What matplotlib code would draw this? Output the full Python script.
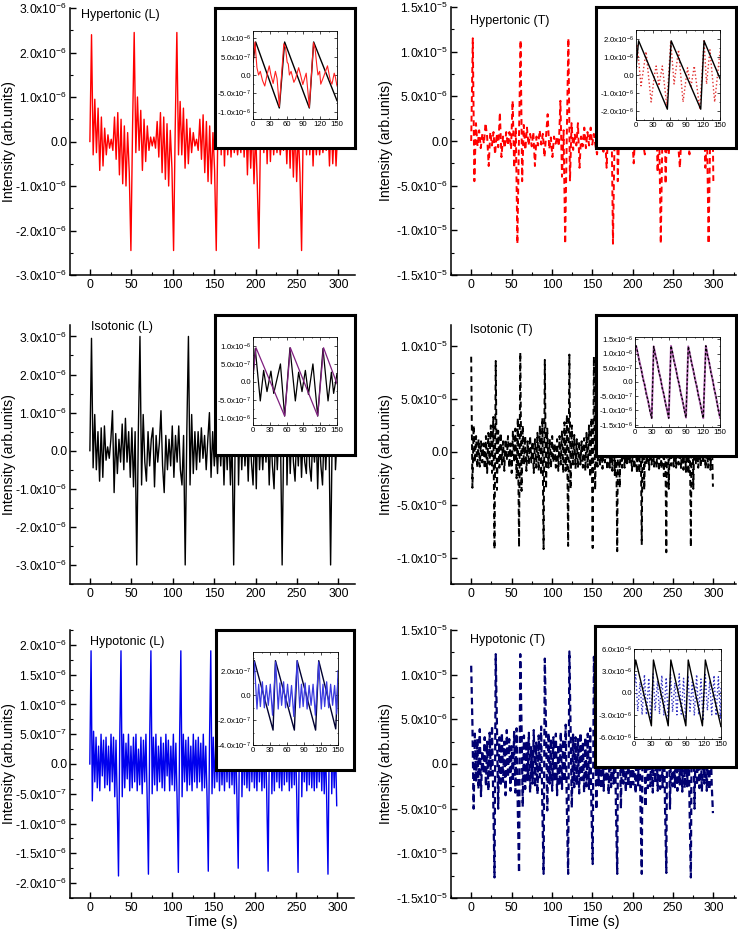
import numpy as np
import matplotlib
matplotlib.use("Agg")
import matplotlib.pyplot as plt
from matplotlib import font_manager
from matplotlib.ticker import MultipleLocator, FuncFormatter

# ---------------- data ----------------
# main traces: one row per repetition period, values in units below
hyper_L_period = 51.5
hyper_L_rows = [  # x1e-6
    [0.0, 2.4, -0.3, 0.95, -0.25, 0.75, -0.65, 0.55, -0.55, 0.3, -0.3, 0.15, -0.15, 0.05, -0.2, 0.55, -0.4, 0.65, -0.75, 0.5, -0.95, 0.35, -1.0, 0.2, -0.7, -2.45],
    [0.3, 2.45, -0.25, 1.0, -0.2, 0.7, -0.65, 0.5, -0.45, 0.35, -0.2, 0.1, -0.1, 0.1, -0.15, 0.45, -0.35, 0.65, -0.7, 0.55, -0.85, 0.4, -1.0, 0.25, -0.6, -2.45],
    [0.3, 2.45, -0.3, 0.9, -0.3, 0.75, -0.6, 0.5, -0.5, 0.3, -0.25, 0.2, -0.1, 0.05, -0.2, 0.5, -0.4, 0.6, -0.7, 0.45, -0.9, 0.35, -0.95, 0.2, -0.65, -2.45],
    [0.3, 2.4, -0.3, 0.95, -0.55, 0.7, -0.3, 0.5, -0.35, 0.3, -0.25, 0.15, -0.3, 0.1, -0.25, 0.5, -0.35, 0.6, -0.75, 0.5, -0.6, 0.4, -0.95, 0.25, -0.95, -2.4],
    [0.3, 2.4, -0.25, 0.9, -0.5, 0.7, -0.45, 0.5, -0.3, 0.3, -0.25, 0.2, -0.3, 0.1, -0.2, 0.45, -0.5, 0.6, -0.6, 0.5, -0.8, 0.4, -0.9, 0.2, -0.7, -2.45],
    [0.3, 2.4, -0.3, 0.9, -0.3, 0.7, -0.55, 0.5, -0.3, 0.3, -0.3, 0.15, -0.25, 0.1, -0.2, 0.45, -0.55, 0.5, -0.5, 0.4, -0.55, 0.2],
]

hyper_T_period = 59.2
hyper_T_rows = [  # x1e-6
    [0.0, 11.5, -4.5, 2.0, -0.6, 1.2, -0.8, 0.8, -0.3, 2.0, 0.5, -2.8, 1.0, -0.5, 1.0, -1.5, 0.8, -0.7, 3.2, -1.8, 0.5, -0.8, 1.0, -0.5, 1.0, -0.9, 4.5, -3.0, 1.5, -11.5],
    [0.5, 11.3, -4.5, 1.8, -1.0, 1.5, -0.5, 0.8, -0.6, 1.0, -2.8, 0.5, -0.5, 1.2, -0.4, 0.8, -1.8, 0.6, 3.0, -0.9, 0.4, -1.8, 0.5, -0.3, 0.5, -0.6, 4.5, -4.0, 1.2, -11.5],
    [0.5, 11.5, -4.5, 2.0, -1.0, 0.8, -0.5, 2.0, -3.0, 0.5, -0.6, 1.5, -0.8, 1.0, -0.5, 1.5, -0.4, 0.8, -0.5, -1.5, 0.6, -0.8, 1.0, -1.2, 0.8, -3.0, 1.5, -0.8, 4.0, -11.5],
    [0.5, 11.5, -4.5, 1.8, -0.8, 1.2, -0.6, 1.0, -0.5, 1.5, -0.7, 0.8, -2.5, 1.0, -0.6, 1.2, -0.5, 0.8, -0.4, -1.5, 0.6, -0.5, 1.0, -1.0, 0.8, -0.6, 4.0, -3.5, 1.2, -11.5],
    [0.5, 11.5, -4.8, 1.8, -1.5, 1.0, -0.6, 1.2, -0.5, 0.8, -0.6, -3.0, 1.0, -0.5, 1.2, -0.6, 0.8, -1.5, 0.6, -0.4, -1.0, 0.8, -0.5, 1.0, -0.6, 0.8, 4.0, -3.0, 1.2, -11.5],
    [0.5, 11.5, -4.5],
]

iso_L_period = 58.5
iso_L_rows = [  # x1e-6
    [0.0, 2.95, -0.45, 0.95, -0.5, 0.5, -0.8, 0.6, -0.7, 0.65, -0.25, 0.1, -0.2, 0.3, 1.05, -1.1, 0.45, -0.6, 0.3, -0.3, 0.7, -0.5, 0.85, -0.3, 0.5, -0.7, 0.6, -0.95, 0.5, -3.0],
    [0.5, 3.0, -0.9, 0.95, -0.3, -0.8, 0.5, -0.4, 0.3, 0.6, -0.95, 0.4, -0.3, 0.2, 1.05, -0.4, -1.1, 0.4, -0.5, 0.3, -0.4, 0.65, -0.7, 0.4, -0.3, 0.65, -0.5, -0.9, 0.4, -3.0],
    [0.5, 3.0, -0.9, 0.95, -0.6, 0.5, -0.5, 0.5, -0.3, 0.6, -0.2, 0.4, -0.5, 0.3, 1.0, -0.7, 0.5, -0.4, 0.3, -0.6, 0.5, -0.4, 0.6, -0.9, 0.5, -0.5, 0.6, -0.9, 0.4, -3.0],
    [0.5, 3.0, -0.9, 0.9, -0.5, 0.6, -0.4, 0.5, -0.8, 0.6, -0.3, -0.9, 0.7, -1.0, 1.0, -0.5, 0.4, -0.5, 0.5, -0.3, 0.6, -0.9, 0.5, -0.4, -1.0, 0.6, -0.5, 0.5, 0.3, -3.0],
    [0.5, 3.0, -0.9, 0.9, -0.6, 0.6, -0.3, -0.8, 0.5, -0.4, 0.6, -0.7, 0.4, -0.3, -0.6, 1.0, -0.4, -0.8, 0.5, -0.3, 0.6, -1.0, 0.5, -0.4, -0.9, 0.6, -0.5, 0.6, 0.3, -3.0],
    [0.5, 3.0, -0.5, 0.3],
]

iso_T_period = 30.4
iso_T_rows = [  # x1e-6
    [9.0, -3.4, 2.5, -1.0, 1.5, -1.5, 1.2, -1.4, 1.0, -1.0, 0.8, -1.6, 1.5, -2.0, 1.8, -1.2, 2.5, -2.0, 3.3, -9.2],
    [8.6, -3.6, 2.0, -1.5, 1.8, -1.2, 1.0, -1.8, 1.2, -0.8, 1.5, -1.5, 0.8, -2.0, 2.0, -1.0, 2.2, -2.5, 3.2, -9.0],
    [9.4, -3.7, 2.5, -1.2, 1.5, -1.8, 1.0, -1.2, 1.5, -1.0, 1.0, -2.0, 1.2, -1.5, 1.8, -1.8, 2.5, -2.2, 3.2, -9.2],
    [8.7, -3.5, 2.2, -1.5, 1.2, -1.5, 1.5, -1.0, 0.8, -1.5, 1.2, -1.8, 1.5, -1.2, 2.0, -2.0, 2.8, -1.8, 3.5, -8.9],
    [9.2, -3.5, 2.5, -1.2, 1.6, -1.6, 1.2, -1.5, 1.0, -1.2, 1.0, -1.5, 1.3, -1.8, 1.8, -1.5, 2.5, -2.4, 3.2, -9.1],
    [9.0, -3.6, 2.0, -1.4, 1.5, -1.2, 1.2, -1.6, 1.0, -1.0, 1.2, -1.7, 1.5, -1.5, 2.0, -1.8, 2.4, -2.2, 3.0, -9.4],
    [9.0, -3.4, 2.4, -1.5, 1.4, -1.5, 1.0, -1.3, 1.2, -1.1, 0.9, -1.8, 1.4, -1.6, 1.9, -2.0, 2.6, -2.0, 3.2, -8.8],
    [9.0, -3.6, 2.2, -1.2, 1.5, -1.7, 1.3, -1.2, 1.0, -1.4, 1.1, -1.5, 1.2, -1.8, 2.0, -1.6, 2.4, -2.3, 3.3, -9.5],
    [9.0, -3.5, 2.3, -1.3, 1.5, -1.4, 1.1, -1.5, 1.1, -1.2, 1.0, -1.6, 1.4, -1.7, 1.8, -1.9, 2.5, -2.1, 3.2, -9.0],
    [9.0, -3.5, 2.2, -1.2, 1.5, -1.5, 1.2, -1.4, 1.0, -1.1, 1.0, -1.6, 1.3, -1.5, 1.8, -1.7, 2.0, -3.3],
]

hypo_L_period = 36.25
hypo_L_rows = [  # x1e-6
    [0.0, 1.9, -0.62, 0.55, -0.3, 0.45, -0.4, 0.3, -0.45, 0.5, -0.2, 0.4, -0.4, 0.45, -0.35, 0.3, -0.45, 0.5, -0.3, 0.45, -0.55, 0.4, -0.65, -1.88],
    [0.4, 1.9, -0.55, 0.5, -0.4, 0.35, -0.25, 0.5, -0.45, 0.3, -0.4, 0.45, -0.3, 0.5, -0.45, 0.25, -0.35, 0.45, -0.5, 0.4, -0.3, 0.5, -0.6, -1.85],
    [0.4, 1.9, -0.5, 0.45, -0.35, 0.5, -0.45, 0.3, -0.3, 0.45, -0.4, 0.35, -0.45, 0.5, -0.2, 0.4, -0.45, 0.3, -0.35, 0.5, -0.45, 0.35, -0.6, -1.82],
    [0.4, 1.9, -0.55, 0.5, -0.3, 0.4, -0.45, 0.45, -0.35, 0.3, -0.45, 0.5, -0.3, 0.4, -0.4, 0.45, -0.3, 0.35, -0.45, 0.5, -0.4, 0.3, -0.55, -1.8],
    [0.4, 1.9, -0.5, 0.45, -0.4, 0.35, -0.3, 0.5, -0.45, 0.4, -0.35, 0.3, -0.45, 0.45, -0.3, 0.4, -0.4, 0.5, -0.35, 0.3, -0.5, 0.45, -0.6, -1.75],
    [0.4, 1.9, -0.55, 0.5, -0.35, 0.45, -0.4, 0.3, -0.45, 0.45, -0.3, 0.4, -0.4, 0.35, -0.45, 0.5, -0.3, 0.4, -0.45, 0.35, -0.4, 0.5, -0.65, -1.8],
    [0.4, 1.9, -0.5, 0.4, -0.45, 0.5, -0.3, 0.45, -0.4, 0.3, -0.45, 0.5, -0.35, 0.4, -0.3, 0.45, -0.45, 0.35, -0.4, 0.5, -0.35, 0.4, -0.6, -1.82],
    [0.4, 1.9, -0.55, 0.45, -0.3, 0.4, -0.45, 0.5, -0.35, 0.4, -0.4, 0.3, -0.45, 0.5, -0.4, 0.35, -0.3, 0.45, -0.45, 0.4, -0.5, 0.35, -0.65, -1.85],
    [0.4, 1.9, -0.5, 0.45, -0.4, 0.35, -0.7],
]

hypo_T_period = 30.4
hypo_T_rows = [  # x1e-6
    [11.0, 4.5, -5.0, 3.4, -2.0, 2.8, -2.8, 3.9, -3.6, 1.5, -1.0, 3.0, -2.5, 2.5, -3.0, 3.5, -1.3, 4.3, -4.5, -12.7],
    [12.3, 4.3, -5.0, 3.0, -2.5, 3.5, -2.0, 2.5, -3.5, 3.8, -1.5, 2.8, -3.0, 2.0, -2.0, 3.6, -3.2, 4.0, -5.2, -12.2],
    [12.3, 4.5, -4.8, 3.2, -2.8, 2.6, -1.8, 3.5, -3.2, 2.0, -2.2, 3.8, -2.6, 2.4, -3.4, 3.2, -1.5, 4.2, -5.0, -12.3],
    [11.8, 4.0, -5.2, 3.5, -2.2, 2.8, -3.0, 3.0, -2.0, 3.4, -3.5, 2.2, -2.4, 3.6, -2.8, 2.8, -2.0, 4.4, -5.3, -12.3],
    [12.6, 4.2, -4.9, 3.3, -2.6, 3.0, -2.4, 2.8, -3.3, 3.5, -1.8, 2.5, -3.2, 3.0, -2.5, 3.4, -2.8, 4.0, -5.0, -11.2],
    [12.0, 4.4, -5.1, 3.0, -2.4, 3.2, -2.8, 2.6, -3.0, 3.3, -2.0, 2.8, -3.4, 2.5, -2.6, 3.5, -2.2, 4.1, -5.2, -12.3],
    [12.0, 4.3, -5.0, 3.4, -2.2, 2.9, -3.1, 3.2, -2.5, 2.7, -2.9, 3.1, -2.3, 2.9, -3.3, 3.2, -2.4, 4.2, -5.0, -12.3],
    [12.0, 4.2, -4.8, 3.1, -2.7, 3.3, -2.5, 2.7, -3.2, 3.0, -2.1, 2.9, -3.0, 2.6, -2.8, 3.4, -2.6, 4.3, -5.1, -12.2],
    [12.0, 4.5, -5.0, 3.2, -2.5, 3.0, -2.6, 3.0, -3.0, 3.2, -2.3, 2.7, -3.1, 2.8, -2.7, 3.3, -2.5, 4.1, -5.2, -12.7],
    [12.0, 4.3, -5.0, 3.3, -2.4, 3.1, -2.7, 2.9, -3.1, 3.0, -2.2, 2.8, -3.0, 2.6, -2.9, 3.2, -2.3, -5.5],
]

# insets (turning points), time in s
in_hyper_L_saw_t = [0, 4.8, 47, 56.5, 100.6, 108.3, 150]
in_hyper_L_saw_v = [0.35, 0.9, -0.9, 0.9, -0.9, 0.9, -0.7]  # x1e-6
in_hyper_L_sig_t = [0, 3.5, 7, 10, 13, 17, 21, 25, 29, 32, 36, 40, 43, 47, 55, 58, 61, 63, 65, 68,
                    73, 76, 81.5, 85, 89, 92, 95, 100.6, 108, 111, 114, 116, 119, 121, 126, 133, 138, 141, 145, 147, 150]
in_hyper_L_sig_v = [0.4, 0.9, 0.2, 0.0, 0.1, -0.15, -0.3, 0.0, 0.25, 0.0, -0.23, 0.1, -0.1, -0.86, 0.85, 0.75, 0.35, 0.3, 0.0, 0.1,
                    -0.2, -0.1, 0.2, 0.0, -0.26, -0.1, 0.05, -0.88, 0.88, 0.7, 0.25, 0.0, 0.1, -0.25, -0.05, 0.25, -0.15, -0.25, 0.05, -0.05, -0.3]

in_hyper_T_saw_t = [0, 4.7, 56, 62.8, 115.6, 121.5, 150]
in_hyper_T_saw_v = [0.4, 1.9, -1.9, 1.9, -1.9, 1.9, -0.2]  # x1e-6
in_hyper_T_sig_t = [0, 2, 9, 18, 27, 33, 36, 41, 47, 55, 62, 68, 76, 84, 92, 98, 104, 114, 121.5, 126, 132, 140.5, 150]
in_hyper_T_sig_v = [0.5, 1.7, -0.6, 1.3, -1.5, 0.0, 0.5, -0.6, 0.5, -1.7, 1.9, -0.5, 1.4, -1.5, 0.4, -0.7, 0.5, -1.9, 1.9, -0.5, 1.4, -1.5, 1.3]

in_iso_L_saw_t = [0, 5.4, 56.5, 66.7, 115.5, 126, 150]
in_iso_L_saw_v = [0.2, 0.95, -0.95, 0.95, -0.95, 0.95, -0.05]  # x1e-6
in_iso_L_sig_t = [0, 4, 13, 19, 25, 32, 37, 49, 56.5, 66, 75.6, 81.5, 87.5, 93.5, 99, 107, 115.5, 125, 134, 140, 144, 150]
in_iso_L_sig_v = [0.1, 0.93, -0.53, 0.32, -0.27, 0.3, -0.32, 0.5, -0.95, 0.95, -0.53, 0.27, -0.27, 0.32, -0.35, 0.5, -0.95, 0.93, -0.53, 0.27, -0.32, 0.23]

in_iso_T_saw_t = [0, 2, 29.5, 33, 59.5, 63.5, 90, 94, 120.5, 125, 150]
in_iso_T_saw_v = [1.1, 1.27, -1.27, 1.25, -1.27, 1.27, -1.25, 1.25, -1.27, 1.27, -1.25]  # x1e-6
in_iso_T_sig_t = [0, 2, 5, 8, 11, 14, 17, 20, 23, 26, 29.5, 33, 36, 39, 42, 45, 48, 51, 54, 57,
                  59.5, 63.5, 66, 69, 72, 75, 78, 81, 84, 87, 90, 94, 97, 100, 103, 106, 109, 112, 115, 118,
                  120.5, 125, 128, 131, 134, 137, 140, 143, 146, 150]
in_iso_T_sig_v = [1.1, 1.27, 1.02, 0.66, 0.47, 0.10, -0.08, -0.45, -0.63, -1.0, -1.27, 1.25, 0.92, 0.72, 0.35, 0.15, -0.22, -0.42, -0.79, -1.0,
                  -1.27, 1.27, 1.06, 0.71, 0.50, 0.14, -0.07, -0.43, -0.64, -1.0, -1.25, 1.25, 0.99, 0.64, 0.43, 0.07, -0.14, -0.50, -0.71, -1.07,
                  -1.27, 1.27, 0.93, 0.71, 0.32, 0.10, -0.28, -0.50, -0.89, -1.25]

in_hypo_L_saw_t = [0, 2.4, 35.4, 39.6, 73, 78, 110.5, 116, 146, 150]
in_hypo_L_saw_v = [2.1, 2.8, -2.8, 2.8, -2.8, 2.8, -2.8, 2.8, -2.7, 1.3]  # x1e-7
in_hypo_L_sig_t = [0, 2.5, 7, 10, 13, 16.5, 20, 23.5, 27, 30.5, 34.5,
                   40, 44.5, 47.5, 50.5, 54, 57.5, 61, 64.5, 68, 72,
                   78, 82.5, 85.5, 88.5, 92, 95.5, 99, 102.5, 106, 110,
                   116, 120.5, 123.5, 126.5, 130, 133.5, 137, 140.5, 144, 147.5, 150]
in_hypo_L_sig_v = [1.3, 2.7, -1.1, 0.9, -0.9, 1.1, -1.0, 0.8, -0.8, 0.9, -1.6,
                   2.7, -1.1, 1.0, -0.8, 1.1, -1.0, 0.9, -0.9, 0.8, -1.7,
                   2.8, -1.0, 0.9, -0.9, 1.0, -1.1, 0.8, -0.8, 0.9, -1.6,
                   2.7, -1.1, 0.9, -0.9, 1.1, -1.0, 0.9, -0.8, 0.8, -1.5, 2.0]

in_hypo_T_saw_t = [0, 2.9, 30, 33.5, 59, 63.5, 89.4, 93.5, 118, 123, 150]
in_hypo_T_saw_v = [2.5, 4.5, -4.5, 4.5, -4.5, 4.5, -4.5, 4.5, -4.5, 4.5, -4.6]  # x1e-6
in_hypo_T_sig_t = [0, 3, 6.5, 10.5, 14, 18, 21.5, 25.5, 29, 33, 36.5, 40.5, 44, 48, 51.5, 55.5, 59, 63, 66.5, 70.5, 74,
                   78, 81.5, 85.5, 89, 93, 96.5, 100.5, 104, 108, 111.5, 115.5, 119, 123, 126.5, 130.5, 134, 138, 141.5, 145.5, 149, 150]
in_hypo_T_sig_v = [0.5, 2.5, -2.5, 1.5, -3.0, 2.5, -3.0, 2.0, -3.8, 2.6, -2.4, 1.6, -2.9, 2.4, -3.1, 2.1, -3.6, 2.5, -2.6, 1.4, -3.0,
                   2.6, -2.9, 2.0, -3.7, 2.4, -2.5, 1.5, -3.1, 2.5, -3.0, 1.9, -3.8, 2.5, -2.4, 1.6, -3.0, 2.4, -3.1, 2.2, -3.6, 1.0]

# ---------------- style ----------------
plt.rcParams['font.family'] = ['Liberation Sans', 'DejaVu Sans']
plt.rcParams['mathtext.fontset'] = 'custom'
plt.rcParams['mathtext.rm'] = 'Liberation Sans'
plt.rcParams['mathtext.it'] = 'Liberation Sans:italic'
plt.rcParams['mathtext.bf'] = 'Liberation Sans:bold'
plt.rcParams['mathtext.default'] = 'regular'

_names = {f.name for f in font_manager.fontManager.ttflist}
NARROW = 'Liberation Sans Narrow' if 'Liberation Sans Narrow' in _names else 'Liberation Sans'

W, H = 738, 931
fig = plt.figure(figsize=(W / 100, H / 100), dpi=100)


def box(left, right, top, bottom):
    return [left / W, 1 - bottom / H, (right - left) / W, (bottom - top) / H]


def sci(v, pos):
    if abs(v) < 1e-13:
        return '0.0'
    e = int(np.floor(np.log10(abs(v)) + 1e-9))
    return '%.1fx10$^{%d}$' % (v / 10.0 ** e, e)


def trace(rows, period, scale):
    vals = [v for r in rows for v in r]
    dt = period / len(rows[0])
    t = np.arange(len(vals)) * dt
    return t, np.array(vals) * scale


def main_panel(b, rows, period, scale, color, lw, dashes, ylim, major, minor, xlim, ylab_x, xlabel):
    ax = fig.add_axes(b)
    t, y = trace(rows, period, scale)
    if dashes:
        ax.plot(t, y, color=color, lw=lw, linestyle='--', dashes=dashes)
    else:
        ax.plot(t, y, color=color, lw=lw)
    ax.set_xlim(*xlim)
    ax.set_ylim(*ylim)
    ax.xaxis.set_major_locator(MultipleLocator(50))
    ax.xaxis.set_minor_locator(MultipleLocator(25))
    ax.yaxis.set_major_locator(MultipleLocator(major))
    ax.yaxis.set_minor_locator(MultipleLocator(minor))
    ax.yaxis.set_major_formatter(FuncFormatter(sci))
    for s in ['top', 'right']:
        ax.spines[s].set_visible(False)
    for s in ['left', 'bottom']:
        ax.spines[s].set_linewidth(1.1)
    ax.tick_params(which='major', direction='in', length=4, width=1, labelsize=8.7)
    ax.tick_params(which='minor', direction='in', length=2, width=0.8)
    ax.tick_params(axis='y', pad=2)
    ax.tick_params(axis='x', pad=3)
    ax.set_ylabel('Intensity (arb.units)', fontsize=10.2)
    ax.yaxis.set_label_coords(ylab_x, 0.5)
    if xlabel:
        ax.set_xlabel('Time (s)', fontsize=10.2)
        ax.xaxis.set_label_coords(0.5, -0.063)
    return ax


def inset(frame_b, b, ylim, major, minor, lines):
    fr = fig.add_axes(frame_b)
    fr.set_xticks([])
    fr.set_yticks([])
    fr.set_facecolor('white')
    for s in fr.spines.values():
        s.set_linewidth(2.2)
    ax = fig.add_axes(b)
    for t, v, kw in lines:
        ax.plot(t, v, **kw)
    ax.set_xlim(0, 150)
    ax.set_ylim(*ylim)
    ax.xaxis.set_major_locator(MultipleLocator(30))
    ax.xaxis.set_minor_locator(MultipleLocator(15))
    ax.yaxis.set_major_locator(MultipleLocator(major))
    ax.yaxis.set_minor_locator(MultipleLocator(minor))
    ax.yaxis.set_major_formatter(FuncFormatter(sci))
    for s in ax.spines.values():
        s.set_linewidth(0.6)
    ax.tick_params(which='both', direction='in', top=True, right=True, width=0.5)
    ax.tick_params(which='major', length=2, labelsize=5.6, pad=1.5)
    ax.tick_params(which='minor', length=1)
    for lab in ax.get_xticklabels() + ax.get_yticklabels():
        lab.set_family(NARROW)
    return ax


XL_LEFT = (-24, 320)
XL_RIGHT = (-25, 328)

# ---- row 1: hypertonic ----
main_panel(box(70, 355, 8, 275), hyper_L_rows, hyper_L_period, 1e-6, '#ff0000', 1.0, None,
           (-3e-6, 3e-6), 1e-6, 0.5e-6, XL_LEFT, -0.19, False)
main_panel(box(451, 736, 7, 275), hyper_T_rows, hyper_T_period, 1e-6, '#ff0000', 1.4, (3.0, 2.0),
           (-1.5e-5, 1.5e-5), 5e-6, 2.5e-6, XL_RIGHT, -0.203, False)

# ---- row 2: isotonic ----
main_panel(box(70, 355, 325, 584), iso_L_rows, iso_L_period, 1e-6, '#000000', 1.0, None,
           (-3.5e-6, 3.3e-6), 1e-6, 0.5e-6, XL_LEFT, -0.19, False)
main_panel(box(451, 736, 325, 584), iso_T_rows, iso_T_period, 1e-6, '#000000', 1.4, (3.0, 2.0),
           (-1.25e-5, 1.2e-5), 5e-6, 2.5e-6, XL_RIGHT, -0.203, False)

# ---- row 3: hypotonic ----
main_panel(box(70, 354, 630, 898), hypo_L_rows, hypo_L_period, 1e-6, '#0000ee', 1.0, None,
           (-2.25e-6, 2.25e-6), 0.5e-6, 0.25e-6, XL_LEFT, -0.19, True)
main_panel(box(451, 736, 630, 898), hypo_T_rows, hypo_T_period, 1e-6, '#000070', 1.6, (3.0, 1.8),
           (-1.5e-5, 1.5e-5), 5e-6, 2.5e-6, XL_RIGHT, -0.203, True)

# ---- insets ----
u6 = np.array
inset(box(215, 355, 8, 148), box(253, 337, 31, 119), (-1.2e-6, 1.2e-6), 5e-7, 2.5e-7, [
    (in_hyper_L_saw_t, u6(in_hyper_L_saw_v) * 1e-6, dict(color='black', lw=1.0)),
    (in_hyper_L_sig_t, u6(in_hyper_L_sig_v) * 1e-6, dict(color='#ff2020', lw=0.8)),
])
inset(box(596, 736, 7, 148), box(636, 720, 30, 120), (-2.5e-6, 2.5e-6), 1e-6, 5e-7, [
    (in_hyper_T_sig_t, u6(in_hyper_T_sig_v) * 1e-6, dict(color='#e03030', lw=1.0, linestyle=':')),
    (in_hyper_T_saw_t, u6(in_hyper_T_saw_v) * 1e-6, dict(color='black', lw=1.0)),
])
inset(box(215, 355, 315, 455), box(253, 337, 337, 425), (-1.2e-6, 1.25e-6), 5e-7, 2.5e-7, [
    (in_iso_L_sig_t, u6(in_iso_L_sig_v) * 1e-6, dict(color='black', lw=0.9)),
    (in_iso_L_saw_t, u6(in_iso_L_saw_v) * 1e-6, dict(color='#7f1f7f', lw=0.9)),
])
inset(box(596, 736, 315, 456), box(635, 720, 337, 427), (-1.58e-6, 1.58e-6), 5e-7, 2.5e-7, [
    (in_iso_T_saw_t, u6(in_iso_T_saw_v) * 1e-6, dict(color='#b060b0', lw=1.4)),
    (in_iso_T_sig_t, u6(in_iso_T_sig_v) * 1e-6, dict(color='black', lw=0.9, linestyle='--', dashes=(2, 1.5))),
])
inset(box(216, 354, 630, 770), box(253, 338, 652, 745), (-4e-7, 3.5e-7), 2e-7, 1e-7, [
    (in_hypo_L_saw_t, u6(in_hypo_L_saw_v) * 1e-7, dict(color='#000030', lw=1.0)),
    (in_hypo_L_sig_t, u6(in_hypo_L_sig_v) * 1e-7, dict(color='#3a3ae0', lw=0.9)),
])
inset(box(595, 736, 626, 767), box(634, 721, 649, 739), (-6.3e-6, 6e-6), 3e-6, 1.5e-6, [
    (in_hypo_T_sig_t, u6(in_hypo_T_sig_v) * 1e-6, dict(color='#3030c0', lw=1.0, linestyle=':')),
    (in_hypo_T_saw_t, u6(in_hypo_T_saw_v) * 1e-6, dict(color='black', lw=1.0)),
])

# ---- panel titles ----
titles = [('Hypertonic (L)', 81, 15), ('Hypertonic (T)', 470, 21),
          ('Isotonic (L)', 91, 327), ('Isotonic (T)', 470, 330),
          ('Hypotonic (L)', 90, 642), ('Hypotonic (T)', 470, 640)]
for txt, x, y in titles:
    fig.text(x / W, 1 - y / H, txt, fontsize=9, ha='left', va='center')

fig.savefig('out.png', dpi=100)
